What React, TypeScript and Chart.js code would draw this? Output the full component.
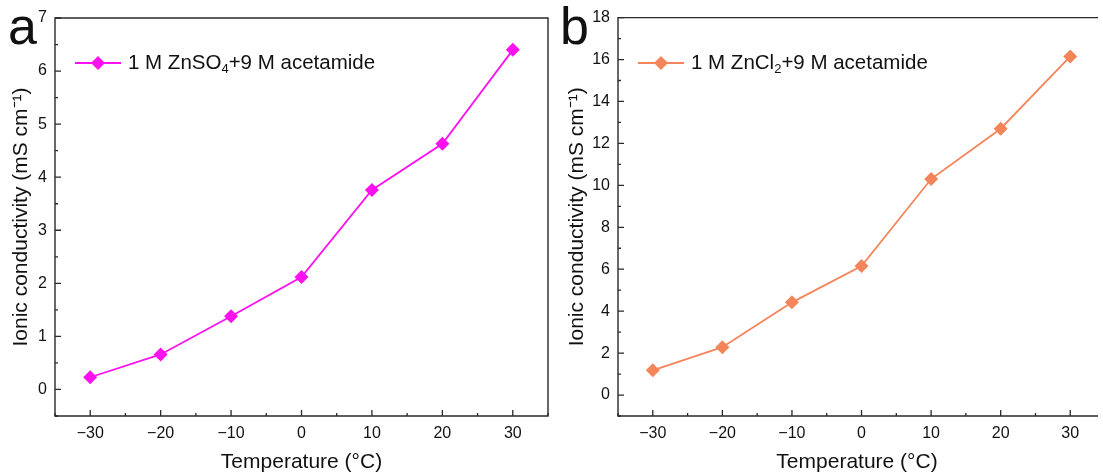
import React, { useEffect, useRef } from "react";
import { Chart, registerables } from "chart.js";

Chart.register(...registerables);

const temperatures = [-30, -20, -10, 0, 10, 20, 30];
const znso4Values = [0.23, 0.66, 1.38, 2.12, 3.76, 4.63, 6.4];
const zncl2Values = [1.18, 2.28, 4.42, 6.15, 10.3, 12.7, 16.15];

const xTicks = [-30, -20, -10, 0, 10, 20, 30];
const xMinorTicks = [-35, -25, -15, -5, 5, 15, 25, 35];
const yTicksA = [0, 1, 2, 3, 4, 5, 6, 7];
const yMinorTicksA = [-0.5, 0.5, 1.5, 2.5, 3.5, 4.5, 5.5, 6.5];
const yTicksB = [0, 2, 4, 6, 8, 10, 12, 14, 16, 18];
const yMinorTicksB = [-1, 1, 3, 5, 7, 9, 11, 13, 15, 17];

// panel b is cropped at the right edge of the figure
const xRangeA = [-35, 35];
const xRangeB = [-35, 33.7];

const legendA = [
  { t: "1 M ZnSO", sub: false },
  { t: "4", sub: true },
  { t: "+9 M acetamide", sub: false },
];
const legendB = [
  { t: "1 M ZnCl", sub: false },
  { t: "2", sub: true },
  { t: "+9 M acetamide", sub: false },
];

const FONT = "'Liberation Sans', Arial, sans-serif";
const AXIS = "#2a2a2a";

const framePlugin = {
  id: "frame",
  afterDraw(chart: any, _args: any, opts: any) {
    const { ctx, chartArea } = chart;
    const { left, right, top, bottom } = chartArea;
    const xs = chart.scales.x;
    const ys = chart.scales.y;
    ctx.save();
    ctx.strokeStyle = AXIS;
    ctx.lineWidth = 1.4;
    ctx.beginPath();
    if (opts.drawRight) {
      ctx.rect(left, top, right - left, bottom - top);
    } else {
      ctx.moveTo(right + 2, top);
      ctx.lineTo(left, top);
      ctx.lineTo(left, bottom);
      ctx.lineTo(right + 2, bottom);
    }
    ctx.stroke();
    ctx.lineWidth = 1.3;
    ctx.beginPath();
    for (const v of opts.xMajor) {
      const p = xs.getPixelForValue(v);
      if (p > right + 0.5) continue;
      ctx.moveTo(p, bottom);
      ctx.lineTo(p, bottom - 6);
    }
    for (const v of opts.xMinor) {
      const p = xs.getPixelForValue(v);
      if (p > right + 0.5) continue;
      ctx.moveTo(p, bottom);
      ctx.lineTo(p, bottom - 3);
    }
    for (const v of opts.yMajor) {
      const p = ys.getPixelForValue(v);
      ctx.moveTo(left, p);
      ctx.lineTo(left + 6, p);
    }
    for (const v of opts.yMinor) {
      const p = ys.getPixelForValue(v);
      ctx.moveTo(left, p);
      ctx.lineTo(left + 3, p);
    }
    ctx.stroke();

    // legend
    const ds = chart.data.datasets[0];
    const lx = left + opts.legendX;
    const ly = opts.legendY;
    ctx.strokeStyle = ds.borderColor;
    ctx.lineWidth = 1.8;
    ctx.beginPath();
    ctx.moveTo(lx, ly);
    ctx.lineTo(lx + 46, ly);
    ctx.stroke();
    ctx.fillStyle = ds.backgroundColor;
    const cx = lx + 23;
    const r = 7;
    ctx.beginPath();
    ctx.moveTo(cx, ly - r);
    ctx.lineTo(cx + r, ly);
    ctx.lineTo(cx, ly + r);
    ctx.lineTo(cx - r, ly);
    ctx.closePath();
    ctx.fill();
    let tx = lx + 53;
    ctx.fillStyle = "#111";
    ctx.textBaseline = "middle";
    ctx.textAlign = "left";
    for (const seg of opts.legend) {
      if (seg.sub) {
        ctx.font = `13px ${FONT}`;
        ctx.fillText(seg.t, tx, ly + 6);
      } else {
        ctx.font = `20.5px ${FONT}`;
        ctx.fillText(seg.t, tx, ly);
      }
      tx += ctx.measureText(seg.t).width;
    }
    ctx.restore();
  },
};

function makeConfig(
  values: number[],
  color: string,
  xRange: number[],
  yMin: number,
  yMax: number,
  yTicks: number[],
  yMinor: number[],
  legend: any[],
  yWidth: number,
  padRight: number,
  padTop: number,
  titlePad: number,
  drawRight: boolean
): any {
  return {
    type: "line",
    data: {
      datasets: [
        {
          data: temperatures.map((t, i) => ({ x: t, y: values[i] })),
          borderColor: color,
          backgroundColor: color,
          borderWidth: 1.8,
          pointStyle: "rectRot",
          pointRadius: 7,
          pointHoverRadius: 7,
          pointBorderWidth: 0,
          tension: 0,
        },
      ],
    },
    plugins: [framePlugin],
    options: {
      animation: false,
      responsive: false,
      maintainAspectRatio: false,
      layout: { padding: { left: 0, right: padRight, top: padTop, bottom: 0 } },
      plugins: {
        legend: { display: false },
        tooltip: { enabled: false },
        frame: {
          xMajor: xTicks,
          xMinor: xMinorTicks,
          yMajor: yTicks,
          yMinor: yMinor,
          legend,
          legendX: 20,
          legendY: 63,
          drawRight,
        },
      },
      scales: {
        x: {
          type: "linear",
          min: xRange[0],
          max: xRange[1],
          afterBuildTicks: (s: any) => {
            s.ticks = xTicks.map((v) => ({ value: v }));
          },
          afterFit: (s: any) => {
            s.height = 59;
          },
          grid: { display: false, drawTicks: false },
          border: { display: false },
          ticks: {
            padding: 8,
            color: "#111",
            font: { family: FONT, size: 16 },
            callback: (v: any) => (v < 0 ? "\u2212" + Math.abs(v) : String(v)),
          },
          title: {
            display: true,
            text: "Temperature (°C)",
            color: "#111",
            font: { family: FONT, size: 21 },
            padding: { top: 0, bottom: 0 },
          },
        },
        y: {
          type: "linear",
          min: yMin,
          max: yMax,
          afterBuildTicks: (s: any) => {
            s.ticks = yTicks.map((v) => ({ value: v }));
          },
          afterFit: (s: any) => {
            s.width = yWidth;
          },
          grid: { display: false, drawTicks: false },
          border: { display: false },
          ticks: {
            padding: 8,
            color: "#111",
            font: { family: FONT, size: 16 },
          },
          title: {
            display: true,
            text: "Ionic conductivity (mS cm\u207B\u00B9)",
            color: "#111",
            font: { family: FONT, size: 21 },
            padding: { top: titlePad, bottom: 0 },
          },
        },
      },
    },
  };
}

function ChartBox(props: { config: any; left: number; width: number; height: number }) {
  const ref = useRef<HTMLCanvasElement | null>(null);
  useEffect(() => {
    if (!ref.current) return;
    const chart = new Chart(ref.current, props.config);
    return () => chart.destroy();
  }, []);
  return (
    <div
      style={{
        position: "absolute",
        left: props.left,
        top: 0,
        width: props.width,
        height: props.height,
      }}
    >
      <canvas
        ref={ref}
        width={props.width}
        height={props.height}
        style={{ display: "block", width: props.width, height: props.height }}
      />
    </div>
  );
}

export default function App() {
  const cfgA = makeConfig(znso4Values, "#FF10F0", xRangeA, -0.5, 7, yTicksA, yMinorTicksA, legendA, 55, 6, 18, 9, true);
  const cfgB = makeConfig(zncl2Values, "#F4855A", xRangeB, -1, 18, yTicksB, yMinorTicksB, legendB, 63, 2, 17, 10, false);
  const letter: React.CSSProperties = {
    position: "absolute",
    fontFamily: FONT,
    fontSize: 52,
    lineHeight: "52px",
    color: "#111",
  };
  return (
    <div
      style={{
        position: "fixed",
        left: 0,
        top: 0,
        width: 1103,
        height: 475,
        overflow: "hidden",
        background: "#fff",
      }}
    >
      <ChartBox config={cfgA} left={0} width={555} height={475} />
      <ChartBox config={cfgB} left={555} width={548} height={475} />
      <div style={{ ...letter, left: 8, top: 0 }}>a</div>
      <div style={{ ...letter, left: 560, top: 0 }}>b</div>
    </div>
  );
}
